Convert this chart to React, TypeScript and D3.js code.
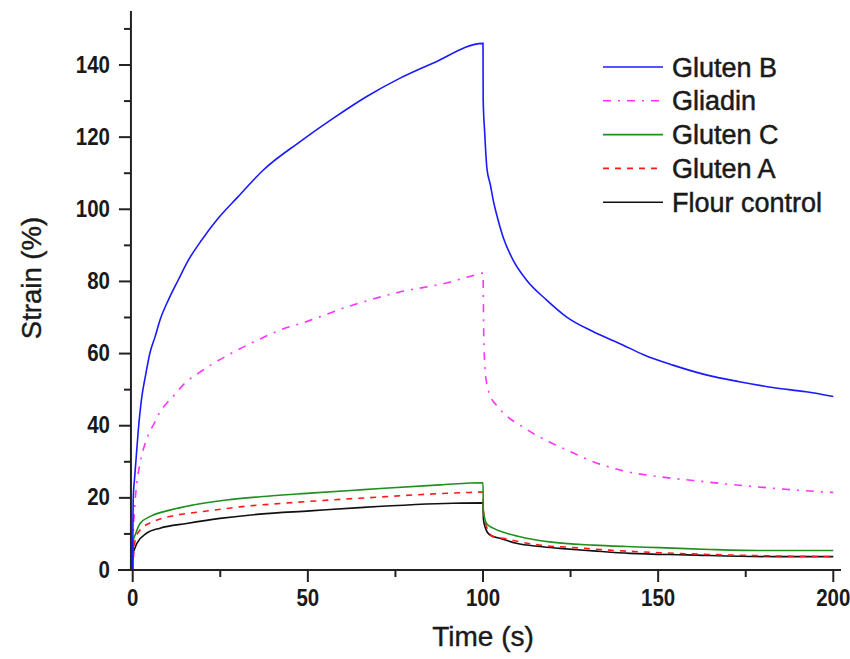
import React from "react";
import * as d3 from "d3";

const glutenBT = [0, 0.05, 0.17, 0.5, 0.94, 1.6, 2.6, 3.6, 4.9, 6.4, 7.8, 10.2, 13, 15.9, 19.7, 24.4, 30.1, 37.3, 47.7, 57.2, 66.7, 76.2, 85.7, 100, 100.05, 100.5, 101.1, 102.1, 102.9, 103.8, 105.7, 108.6, 112.4, 118.1, 123.8, 131.4, 139.9, 146, 154.2, 163.7, 173.2, 182.7, 192.2, 200];
const glutenBV = [0, 10, 20.3, 25, 30.5, 38.8, 48, 53.6, 60.1, 64.7, 69.3, 74.9, 80.4, 85.9, 91.5, 97.5, 103.5, 110.9, 118.7, 125.2, 131.2, 136.3, 140.5, 146, 130.5, 121, 111.5, 106.8, 102.6, 98.9, 92.4, 85.9, 80.4, 74.9, 70.2, 66.1, 62.4, 59.6, 56.8, 54.1, 52.2, 50.6, 49.4, 48.1];

const gliadinT = [0, 0.1, 0.46, 0.94, 1.9, 3, 4.45, 6.4, 7.8, 9.7, 11.6, 14.9, 18.7, 21.6, 28.2, 35.8, 43.4, 48.2, 62, 76, 90.5, 97, 100, 100.2, 100.5, 101, 102, 104, 107, 110, 115, 120, 125, 130, 140, 150, 160, 170, 180, 190, 200];
const gliadinV = [0, 8.3, 15.8, 22, 28.6, 33.3, 37.5, 41.1, 43.9, 46.2, 48.2, 51.8, 54.5, 56.4, 60.1, 63.8, 67, 68.4, 73.2, 77, 79.8, 81.6, 82.3, 66, 57, 52, 48.5, 45.5, 42.5, 40.5, 37.5, 35, 32.8, 30.6, 27.5, 25.9, 24.8, 23.8, 22.9, 22.1, 21.5];

const glutenCT = [0, 0.2, 0.7, 2.1, 4.9, 10.6, 17.2, 26.8, 36.3, 50.6, 64.8, 87.7, 100, 100.1, 101, 102.9, 106.7, 112.4, 119, 131.4, 140.9, 150.4, 164.7, 179.9, 200];
const glutenCV = [0, 8.3, 9.7, 12.9, 14.8, 16.6, 18, 19.4, 20.3, 21.3, 22.2, 23.6, 24.2, 16.6, 12.9, 11.6, 10.2, 8.8, 7.8, 6.9, 6.5, 6.2, 5.7, 5.4, 5.4];

const glutenAT = [0, 0.7, 2.1, 5.9, 12.5, 20.1, 30.6, 45.8, 64.8, 96.2, 100, 100.1, 101, 102.9, 105.7, 110.5, 118, 124.7, 136.1, 150.4, 164.7, 183.7, 200];
const glutenAV = [0, 8.3, 11.1, 13.4, 15.2, 16.2, 17.5, 18.7, 19.9, 21.5, 21.6, 16.6, 12, 9.2, 8.8, 7.8, 6.7, 6.3, 5.5, 4.8, 4.3, 3.9, 3.7];

const flourT = [0, 0.05, 0.4, 1.2, 4, 7.8, 15.4, 24.9, 36.3, 50.6, 64.8, 91.4, 100, 100.1, 100.7, 102, 104.8, 109.5, 116.2, 121.9, 131.4, 141.9, 158, 183.7, 200];
const flourV = [0, 4.5, 5.5, 7.4, 10.2, 11.6, 12.9, 14.3, 15.5, 16.4, 17.3, 18.5, 18.6, 14.3, 11.6, 9.7, 8.8, 7.4, 6.5, 6, 5.3, 4.6, 4.2, 3.7, 3.7];

const seriesNames = ["Gluten B", "Gliadin", "Gluten C", "Gluten A", "Flour control"];
const seriesColors = ["#1a1aff", "#ff33ff", "#1f8f1f", "#ff1a1a", "#111111"];
const seriesDash = [null, "8,7,2,7", null, "6,6", null];
const seriesT = [glutenBT, gliadinT, glutenCT, glutenAT, flourT];
const seriesV = [glutenBV, gliadinV, glutenCV, glutenAV, flourV];

const xMajor = [0, 50, 100, 150, 200];
const xMinor = [25, 75, 125, 175];
const yMajor = [0, 20, 40, 60, 80, 100, 120, 140];
const yMinor = [10, 30, 50, 70, 90, 110, 130, 150];

export default function App() {
  const W = 850, H = 659;
  const x = d3.scaleLinear().domain([0, 200]).range([132.7, 833.3]);
  const y = d3.scaleLinear().domain([0, 140]).range([570, 65]);
  const axisX = x(-0.5);
  const axisColor = "#222";
  const font = "'Liberation Sans', Arial, sans-serif";
  const textColor = "#1a1a1a";

  const line = d3.line<[number, number]>().x(d => x(d[0])).y(d => y(d[1])).curve(d3.curveMonotoneX);

  return (
    <svg width={W} height={H} style={{ position: "absolute", left: 0, top: 0, background: "#fff" }}>
      <rect x={0} y={0} width={W} height={H} fill="#fff" />
      {seriesNames.map((n, i) => {
        const pts: [number, number][] = seriesT[i].map((t, j) => [t, seriesV[i][j]]);
        return (
          <path key={n} d={line(pts) || ""} fill="none" stroke={seriesColors[i]}
            strokeWidth={1.6} strokeDasharray={seriesDash[i] || undefined} />
        );
      }).reverse()}
      <line x1={axisX} x2={axisX} y1={y(0)} y2={y(155)} stroke={axisColor} strokeWidth={2} />
      <line x1={x(-4.2)} x2={x(202.2)} y1={y(0)} y2={y(0)} stroke={axisColor} strokeWidth={2} />
      {yMajor.map(v => (
        <g key={"ym" + v}>
          <line x1={axisX - 12} x2={axisX} y1={y(v)} y2={y(v)} stroke={axisColor} strokeWidth={2} />
          <text transform={`translate(110, ${y(v) + 7.5}) scale(1, 1.18)`} textAnchor="end" fontFamily={font}
            fontWeight="bold" fontSize={20.5} fill={textColor}>{v}</text>
        </g>
      ))}
      {yMinor.map(v => (
        <line key={"yn" + v} x1={axisX - 7} x2={axisX} y1={y(v)} y2={y(v)} stroke={axisColor} strokeWidth={2} />
      ))}
      {xMajor.map(v => (
        <g key={"xm" + v}>
          <line x1={x(v)} x2={x(v)} y1={y(0)} y2={y(0) + 12} stroke={axisColor} strokeWidth={2} />
          <text transform={`translate(${x(v)}, 606) scale(1, 1.18)`} textAnchor="middle" fontFamily={font}
            fontWeight="bold" fontSize={20.5} fill={textColor}>{v}</text>
        </g>
      ))}
      {xMinor.map(v => (
        <line key={"xn" + v} x1={x(v)} x2={x(v)} y1={y(0)} y2={y(0) + 7} stroke={axisColor} strokeWidth={2} />
      ))}
      <text x={483} y={646} textAnchor="middle" fontFamily={font} fontSize={28} fill={textColor}
        stroke={textColor} strokeWidth={0.4}>Time (s)</text>
      <text transform={`translate(41, 278) rotate(-90)`} textAnchor="middle" fontFamily={font}
        fontSize={27.5} fill={textColor} stroke={textColor} strokeWidth={0.4}>Strain (%)</text>
      {seriesNames.map((n, i) => {
        const ly = 67 + i * 33.8;
        return (
          <g key={"lg" + n}>
            <line x1={603} x2={663} y1={ly} y2={ly} stroke={seriesColors[i]} strokeWidth={1.6}
              strokeDasharray={seriesDash[i] || undefined} />
            <text x={672} y={ly + 9.5} fontFamily={font} fontSize={27} fill={textColor}
              stroke={textColor} strokeWidth={0.5}>{n}</text>
          </g>
        );
      })}
    </svg>
  );
}
